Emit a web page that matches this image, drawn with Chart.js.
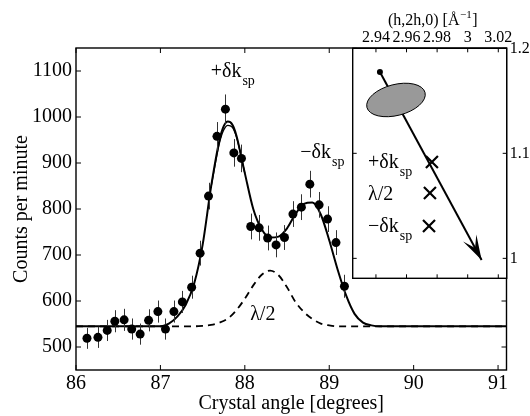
<!DOCTYPE html>
<html>
<head>
<meta charset="utf-8">
<script src="https://cdn.jsdelivr.net/npm/chart.js@4.4.1/dist/chart.umd.min.js"></script>
<style>
html, body { margin: 0; padding: 0; background: #fff; }
#wrap { position: relative; width: 530px; height: 416px; }
#main { position: absolute; left: 0; top: 0; }
#inset { position: absolute; left: 300px; top: 0; }
</style>
</head>
<body>
<div id="wrap">
  <canvas id="main" width="530" height="416"></canvas>
  <canvas id="inset" width="230" height="300"></canvas>
</div>
<script>
const FONT = "'Liberation Serif', 'Times New Roman', serif";
Chart.defaults.font.family = FONT;
Chart.defaults.color = "#000";

// main plot: measured points
const PTS_X = [86.13, 86.26, 86.37, 86.46, 86.57, 86.66, 86.76, 86.86, 86.97, 87.06, 87.16,
               87.26, 87.37, 87.47, 87.57, 87.67, 87.77, 87.87, 87.96, 88.07, 88.17, 88.27,
               88.37, 88.47, 88.57, 88.67, 88.77, 88.88, 88.98, 89.08, 89.18];
const PTS_Y = [519, 521, 536, 556, 559, 539, 528, 558, 577, 539, 577,
               598, 630, 704, 828, 958, 1017, 922, 910, 762, 759, 737,
               722, 738, 789, 804, 854, 809, 778, 727, 632];
const PTS_ERR = [23, 23, 23, 24, 24, 23, 23, 24, 24, 23, 24,
                 24, 25, 27, 29, 31, 32, 30, 30, 28, 28, 27,
                 27, 27, 28, 28, 29, 28, 28, 27, 25];

// total fit (solid)
const FIT_X = [86.0, 87.0, 87.1, 87.2, 87.3, 87.4, 87.5, 87.6, 87.7, 87.75, 87.8, 87.85, 87.9,
               88.0, 88.1, 88.2, 88.3, 88.4, 88.5, 88.6, 88.7, 88.8, 88.9, 89.0, 89.1, 89.2,
               89.3, 89.4, 89.5, 89.6, 91.1];
const FIT_Y = [545, 545, 551, 566, 592, 638, 722, 848, 950, 980, 990, 984, 960,
               878, 800, 756, 738, 740, 758, 789, 811, 814, 788, 732, 668, 612,
               572, 553, 547, 545, 545];
// second fit, only differs near the first peak
const FIT2_X = [87.6, 87.7, 87.75, 87.8, 87.85, 87.9, 88.0];
const FIT2_Y = [848, 944, 972, 982, 978, 957, 878];

// lambda/2 contribution (dashed)
const HALF_X = [86.0, 87.4, 87.5, 87.6, 87.7, 87.8, 87.9, 88.0, 88.1, 88.2, 88.3, 88.4,
                88.5, 88.6, 88.7, 88.8, 88.9, 89.0, 89.1, 91.1];
const HALF_Y = [545, 545, 546, 548, 553, 562, 580, 605, 634, 657, 666, 656,
                630, 598, 576, 561, 551, 547, 545, 545];

const X_TICKS = [86, 87, 88, 89, 90, 91];
const Y_TICKS = [500, 600, 700, 800, 900, 1000, 1100];

// peak labels [text, subscript, x, y]
const PEAK_LABELS = [
  ["+\u03B4k", "sp", 87.596, 1088],
  ["\u2212\u03B4k", "sp", 88.657, 911],
  ["\u03BB/2", "", 88.063, 559]
];

// inset
const INSET_X_TICKS = [2.94, 2.96, 2.98, 3, 3.02];
const INSET_Y_TICKS = [1, 1.1, 1.2];
const ARROW_X = [2.9426, 3.0091];
const ARROW_Y = [1.1774, 0.9984];
const ELLIPSE_XY = [2.9531, 1.1508];
const CROSS_X = [2.9766, 2.9753, 2.9747];
const CROSS_Y = [1.0917, 1.0622, 1.0308];
const CROSS_TEXT = ["+\u03B4k", "\u03BB/2", "\u2212\u03B4k"];
const CROSS_SUB = ["sp", "", "sp"];
const CROSS_TEXT_X = 2.9348;
const CROSS_TEXT_Y = [1.086, 1.0555, 1.0253];

const pts = (xs, ys) => xs.map((x, i) => ({ x, y: ys[i] }));

function subText(ctx, x, y, main, sub, size) {
  ctx.textAlign = "left";
  ctx.textBaseline = "alphabetic";
  ctx.font = size + "px " + FONT;
  ctx.fillText(main, x, y);
  if (sub) {
    const w = ctx.measureText(main).width;
    ctx.font = Math.round(size * 0.72) + "px " + FONT;
    ctx.fillText(sub, x + w + 1, y + size * 0.4);
  }
}

const frame = {
  id: "frame",
  afterDraw(chart, args, opts) {
    const { ctx, chartArea: a, scales } = chart;
    const L = opts.tick;
    ctx.save();
    ctx.strokeStyle = "#000";
    ctx.lineWidth = opts.width;
    ctx.beginPath();
    scales.x.ticks.forEach(t => {
      const px = scales.x.getPixelForValue(t.value);
      ctx.moveTo(px, a.bottom); ctx.lineTo(px, a.bottom - L);
      ctx.moveTo(px, a.top); ctx.lineTo(px, a.top + L);
    });
    scales.y.ticks.forEach(t => {
      const py = scales.y.getPixelForValue(t.value);
      ctx.moveTo(a.left, py); ctx.lineTo(a.left + L, py);
      ctx.moveTo(a.right, py); ctx.lineTo(a.right - L, py);
    });
    ctx.stroke();
    ctx.lineWidth = opts.border;
    ctx.strokeRect(a.left, a.top, a.right - a.left, a.bottom - a.top);
    ctx.restore();
  }
};

const errorBars = {
  id: "errorBars",
  beforeDatasetDraw(chart, args) {
    if (args.index !== 0) return;
    const { ctx, scales: { x, y } } = chart;
    ctx.save();
    ctx.strokeStyle = "#333";
    ctx.lineWidth = 1;
    ctx.beginPath();
    PTS_X.forEach((v, i) => {
      const px = Math.round(x.getPixelForValue(v)) + 0.5;
      ctx.moveTo(px, y.getPixelForValue(PTS_Y[i] - PTS_ERR[i]));
      ctx.lineTo(px, y.getPixelForValue(PTS_Y[i] + PTS_ERR[i]));
    });
    ctx.stroke();
    ctx.restore();
  }
};

const peakLabels = {
  id: "peakLabels",
  afterDatasetsDraw(chart) {
    const { ctx, scales: { x, y } } = chart;
    ctx.save();
    ctx.fillStyle = "#000";
    PEAK_LABELS.forEach(l => subText(ctx, x.getPixelForValue(l[2]), y.getPixelForValue(l[3]), l[0], l[1], 20));
    ctx.restore();
  }
};

new Chart(document.getElementById("main"), {
  type: "scatter",
  data: {
    datasets: [
      { data: pts(PTS_X, PTS_Y), pointRadius: 4.5, pointBackgroundColor: "#000", pointBorderWidth: 0 },
      { data: pts(FIT_X, FIT_Y), showLine: true, borderColor: "#000", borderWidth: 2,
        pointRadius: 0, cubicInterpolationMode: "monotone" },
      { data: pts(FIT2_X, FIT2_Y), showLine: true, borderColor: "#000", borderWidth: 1.3,
        pointRadius: 0, cubicInterpolationMode: "monotone" },
      { data: pts(HALF_X, HALF_Y), showLine: true, borderColor: "#000", borderWidth: 1.8,
        borderDash: [7, 5], pointRadius: 0, cubicInterpolationMode: "monotone" }
    ]
  },
  options: {
    responsive: false,
    animation: false,
    events: [],
    layout: { padding: { left: 0, right: 23.5, top: 48, bottom: 0 } },
    plugins: { legend: { display: false }, tooltip: { enabled: false }, frame: { width: 1, border: 1.4, tick: 5 } },
    scales: {
      x: {
        type: "linear", min: 86, max: 91.1,
        afterFit: s => { s.height = 46; },
        afterBuildTicks: s => { s.ticks = X_TICKS.map(v => ({ value: v })); },
        grid: { display: false, drawTicks: false },
        border: { display: false },
        ticks: { font: { size: 20 }, padding: 2, autoSkip: false, maxRotation: 0, callback: v => String(v) },
        title: { display: true, text: "Crystal angle [degrees]", font: { size: 20 }, padding: { top: 0, bottom: 0 } }
      },
      y: {
        type: "linear", min: 450, max: 1150,
        afterFit: s => { s.width = 76; },
        afterBuildTicks: s => { s.ticks = Y_TICKS.map(v => ({ value: v })); },
        grid: { display: false, drawTicks: false },
        border: { display: false },
        ticks: { font: { size: 20 }, padding: 4, autoSkip: false, callback: v => String(v) },
        title: { display: true, text: "Counts per minute", font: { size: 20 }, padding: { top: 10, bottom: 0 } }
      }
    }
  },
  plugins: [errorBars, peakLabels, frame]
});

const insetDraw = {
  id: "insetDraw",
  beforeDraw(chart) {
    const { ctx, chartArea: a } = chart;
    ctx.save();
    ctx.fillStyle = "#fff";
    ctx.fillRect(a.left, a.top, a.right - a.left, a.bottom - a.top);
    ctx.restore();
  },
  afterDatasetDraw(chart, args) {
    if (args.index !== 2) return;
    const { ctx, scales: { x, y } } = chart;
    // arrow head
    const x0 = x.getPixelForValue(ARROW_X[0]), y0 = y.getPixelForValue(ARROW_Y[0]);
    const x1 = x.getPixelForValue(ARROW_X[1]), y1 = y.getPixelForValue(ARROW_Y[1]);
    const len = Math.hypot(x1 - x0, y1 - y0);
    const ux = (x1 - x0) / len, uy = (y1 - y0) / len;
    const nx = -uy, ny = ux;
    const L = 25, W = 7.5;
    ctx.save();
    ctx.fillStyle = "#000";
    ctx.beginPath();
    ctx.moveTo(x1, y1);
    ctx.lineTo(x1 - ux * L + nx * W, y1 - uy * L + ny * W);
    ctx.lineTo(x1 - ux * L * 0.55, y1 - uy * L * 0.55);
    ctx.lineTo(x1 - ux * L - nx * W, y1 - uy * L - ny * W);
    ctx.closePath();
    ctx.fill();
    // resolution ellipse
    ctx.beginPath();
    ctx.ellipse(x.getPixelForValue(ELLIPSE_XY[0]), y.getPixelForValue(ELLIPSE_XY[1]), 30, 15.5, -14.4 * Math.PI / 180, 0, 2 * Math.PI);
    ctx.fillStyle = "#999999";
    ctx.fill();
    ctx.strokeStyle = "#000";
    ctx.lineWidth = 1;
    ctx.stroke();
    ctx.restore();
  },
  afterDatasetsDraw(chart) {
    const { ctx, scales: { x, y } } = chart;
    ctx.save();
    ctx.fillStyle = "#000";
    CROSS_TEXT.forEach((t, i) => subText(ctx, x.getPixelForValue(CROSS_TEXT_X), y.getPixelForValue(CROSS_TEXT_Y[i]), t, CROSS_SUB[i], 20));
    // top axis title with superscript
    const cx = (chart.chartArea.left + chart.chartArea.right) / 2 + 3;
    ctx.font = "16px " + FONT;
    const a = "(h,2h,0) [\u00C5", b = "\u22121", c = "]";
    const wa = ctx.measureText(a).width, wc = ctx.measureText(c).width;
    ctx.font = "11px " + FONT;
    const wb = ctx.measureText(b).width;
    let sx = cx - (wa + wb + wc + 1) / 2;
    ctx.textAlign = "left";
    ctx.textBaseline = "alphabetic";
    ctx.font = "16px " + FONT;
    ctx.fillText(a, sx, 25);
    ctx.font = "11px " + FONT;
    ctx.fillText(b, sx + wa + 0.5, 18);
    ctx.font = "16px " + FONT;
    ctx.fillText(c, sx + wa + wb + 1, 25);
    ctx.restore();
  }
};

new Chart(document.getElementById("inset"), {
  type: "scatter",
  data: {
    datasets: [
      { data: pts(CROSS_X, CROSS_Y), pointStyle: "crossRot", pointRadius: 8.5, borderColor: "#000", borderWidth: 2.2 },
      { data: [{ x: ARROW_X[0], y: ARROW_Y[0] }], pointRadius: 3, pointBackgroundColor: "#000", pointBorderWidth: 0 },
      { data: pts(ARROW_X, ARROW_Y), showLine: true, borderColor: "#000", borderWidth: 2, pointRadius: 0 }
    ]
  },
  options: {
    responsive: false,
    animation: false,
    events: [],
    layout: { padding: { left: 52.7, right: 0, top: 0, bottom: 21.7 } },
    plugins: { legend: { display: false }, tooltip: { enabled: false }, frame: { width: 1, border: 1.4, tick: 4 } },
    scales: {
      x: {
        type: "linear", position: "top", min: 2.9248, max: 3.0255,
        afterFit: s => { s.height = 48.3; },
        afterBuildTicks: s => { s.ticks = INSET_X_TICKS.map(v => ({ value: v })); },
        grid: { display: false, drawTicks: false },
        border: { display: false },
        ticks: { font: { size: 16 }, padding: 1, autoSkip: false, maxRotation: 0, minRotation: 0, callback: v => String(v) }
      },
      y: {
        type: "linear", position: "right", min: 0.981, max: 1.2,
        afterFit: s => { s.width = 23.3; },
        afterBuildTicks: s => { s.ticks = INSET_Y_TICKS.map(v => ({ value: v })); },
        grid: { display: false, drawTicks: false },
        border: { display: false },
        ticks: { font: { size: 16 }, padding: 3, autoSkip: false, callback: v => String(v) }
      }
    }
  },
  plugins: [insetDraw, frame]
});
</script>
</body>
</html>
